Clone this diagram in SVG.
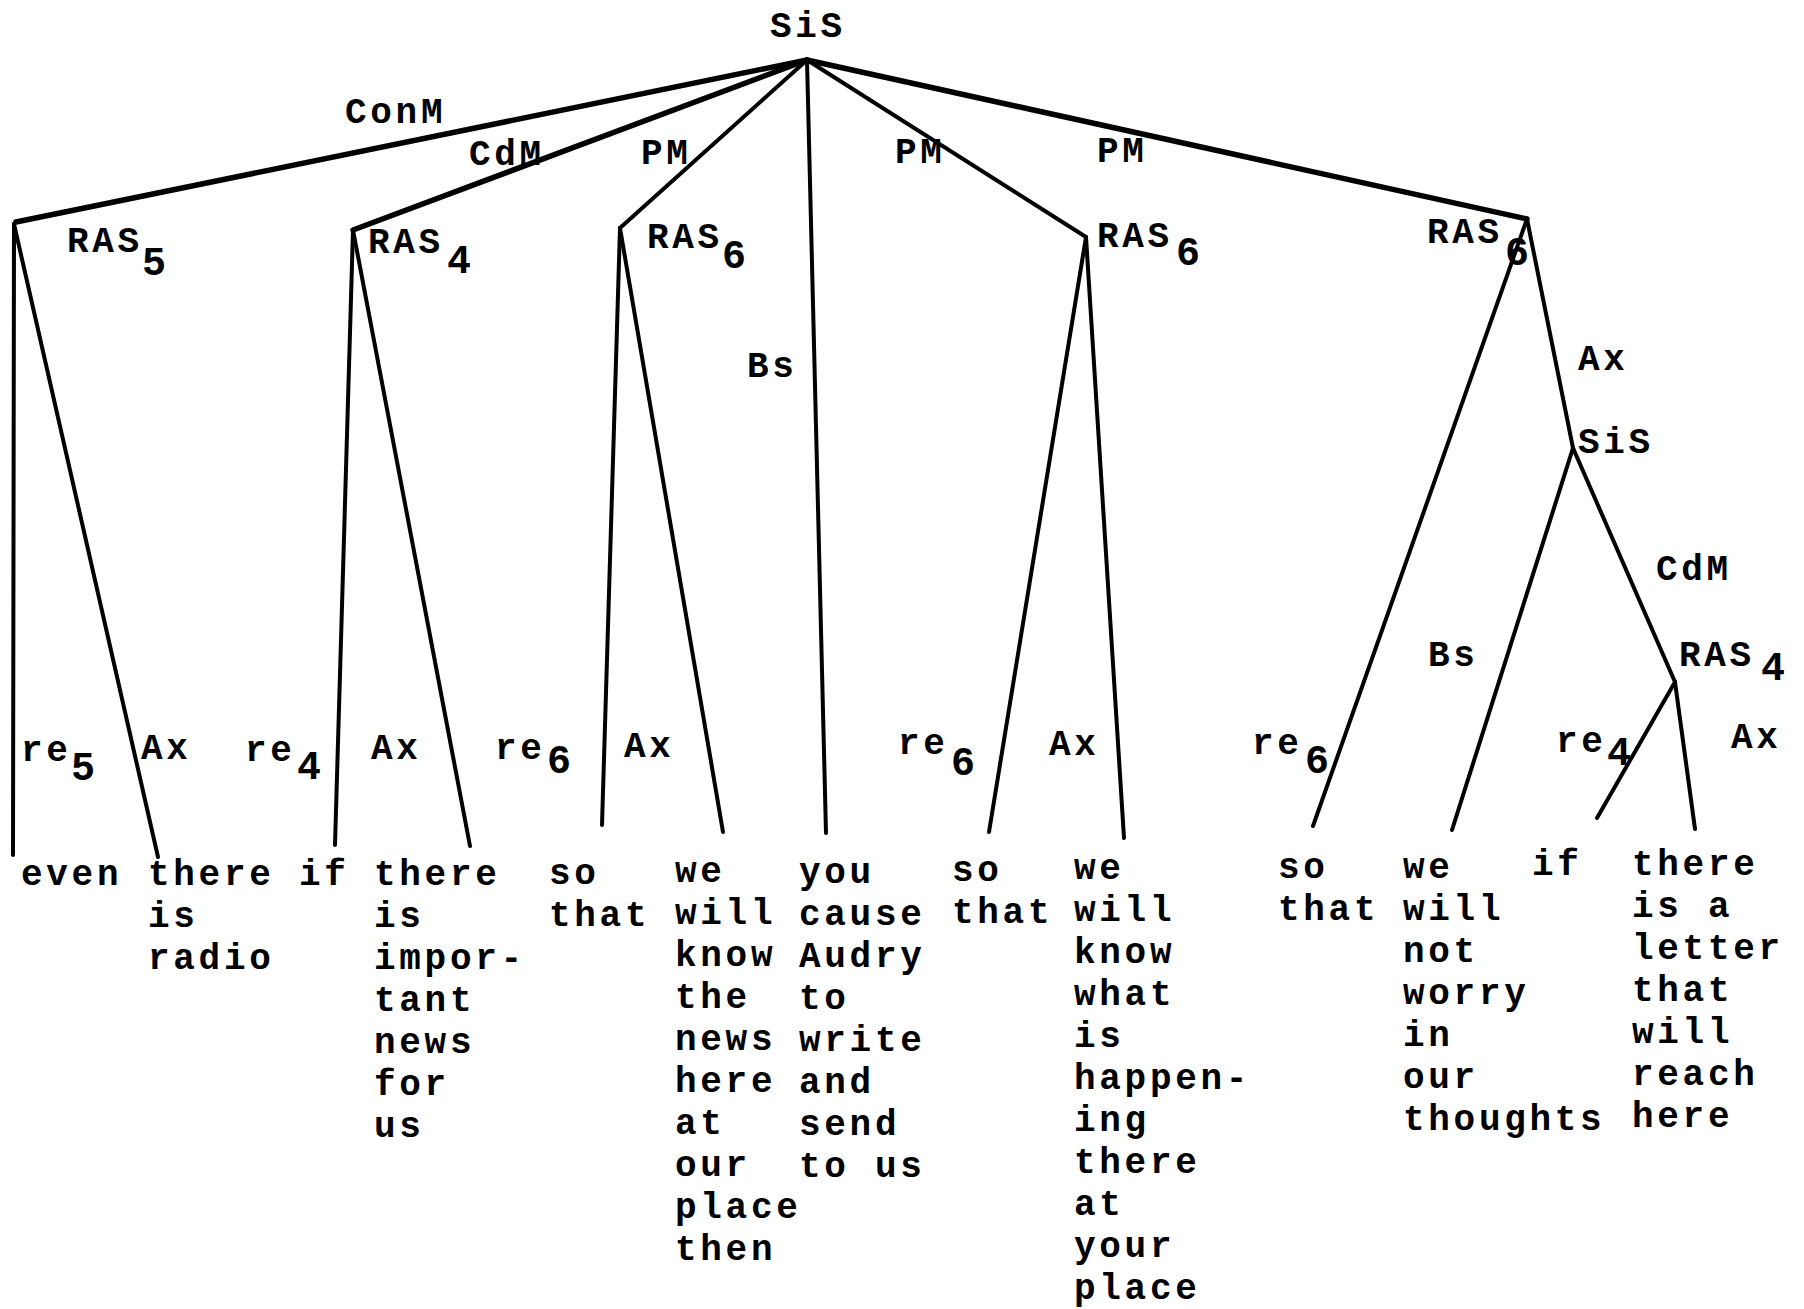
<svg xmlns="http://www.w3.org/2000/svg" width="1804" height="1309" viewBox="0 0 1804 1309">
  <style>
    .t { font-family: "Liberation Mono", "DejaVu Sans Mono", monospace; font-weight: bold; font-size: 36px; letter-spacing: 3.7px; fill: #000; }
    .sub { font-family: "Liberation Mono", "DejaVu Sans Mono", monospace; font-weight: bold; font-size: 40px; fill: #000; }
    .e { stroke: #000; stroke-width: 4; stroke-linecap: round; fill: none; }
    .ew { stroke: #000; stroke-width: 5.5; stroke-linecap: round; fill: none; }
  </style>
  <rect width="1804" height="1309" fill="#fff"/>

  <!-- tree edges -->
  <g id="connectors">
    <line class="ew" x1="807" y1="60" x2="16" y2="222"/>
    <line class="ew" x1="807" y1="60" x2="353" y2="230"/>
    <line class="e" x1="807" y1="60" x2="620" y2="228"/>
    <line class="e" x1="807" y1="60" x2="826" y2="833"/>
    <line class="e" x1="807" y1="60" x2="1086" y2="237"/>
    <line class="ew" x1="807" y1="60" x2="1527" y2="219"/>
    <line class="e" x1="14" y1="224" x2="13" y2="855"/>
    <line class="e" x1="14" y1="224" x2="158" y2="857"/>
    <line class="e" x1="353" y1="230" x2="335" y2="845"/>
    <line class="e" x1="353" y1="230" x2="470" y2="846"/>
    <line class="e" x1="620" y1="228" x2="602" y2="825"/>
    <line class="e" x1="620" y1="228" x2="723" y2="832"/>
    <line class="e" x1="1086" y1="237" x2="989" y2="832"/>
    <line class="e" x1="1086" y1="237" x2="1124" y2="838"/>
    <line class="e" x1="1527" y1="219" x2="1313" y2="826"/>
    <line class="e" x1="1527" y1="219" x2="1573" y2="448"/>
    <line class="e" x1="1573" y1="448" x2="1452" y2="830"/>
    <line class="e" x1="1573" y1="448" x2="1675" y2="682"/>
    <line class="e" x1="1675" y1="682" x2="1597" y2="818"/>
    <line class="e" x1="1675" y1="682" x2="1695" y2="829"/>
  </g>

  <!-- edge labels -->
  <g id="edge-labels">
    <text class="t" x="345" y="123">ConM</text>
    <text class="t" x="469" y="165">CdM</text>
    <text class="t" x="641" y="164">PM</text>
    <text class="t" x="895" y="163">PM</text>
    <text class="t" x="1097" y="162">PM</text>
    <text class="t" x="747" y="377">Bs</text>
    <text class="t" x="21" y="761">re</text><text class="sub" x="71" y="780">5</text>
    <text class="t" x="141" y="759">Ax</text>
    <text class="t" x="245" y="761">re</text><text class="sub" x="297" y="779">4</text>
    <text class="t" x="371" y="759">Ax</text>
    <text class="t" x="495" y="759">re</text><text class="sub" x="547" y="773">6</text>
    <text class="t" x="624" y="757">Ax</text>
    <text class="t" x="898" y="754">re</text><text class="sub" x="951" y="775">6</text>
    <text class="t" x="1049" y="755">Ax</text>
    <text class="t" x="1252" y="754">re</text><text class="sub" x="1305" y="773">6</text>
    <text class="t" x="1428" y="666">Bs</text>
    <text class="t" x="1578" y="370">Ax</text>
    <text class="t" x="1656" y="580">CdM</text>
    <text class="t" x="1556" y="752">re</text><text class="sub" x="1607" y="765">4</text>
    <text class="t" x="1731" y="748">Ax</text>
  </g>

  <!-- internal nodes -->
  <g id="node-sis-root"><text class="t" x="770" y="37">SiS</text></g>
  <g id="node-ras5"><text class="t" x="67" y="252">RAS</text><text class="sub" x="142" y="275">5</text></g>
  <g id="node-ras4"><text class="t" x="368" y="253">RAS</text><text class="sub" x="447" y="273">4</text></g>
  <g id="node-ras6-a"><text class="t" x="647" y="248">RAS</text><text class="sub" x="722" y="268">6</text></g>
  <g id="node-ras6-b"><text class="t" x="1097" y="247">RAS</text><text class="sub" x="1176" y="265">6</text></g>
  <g id="node-ras6-c"><text class="t" x="1427" y="243">RAS</text><text class="sub" x="1505" y="265">6</text></g>
  <g id="node-sis-inner"><text class="t" x="1578" y="453">SiS</text></g>
  <g id="node-ras4-b"><text class="t" x="1679" y="666">RAS</text><text class="sub" x="1761" y="680">4</text></g>

  <!-- leaf words -->
  <g id="leaf-even"><text class="t" x="21" y="885">even</text></g>
  <g id="leaf-there-radio"><text class="t" x="148" y="885"><tspan x="148">there</tspan><tspan x="148" dy="42">is</tspan><tspan x="148" dy="42">radio</tspan></text></g>
  <g id="leaf-if-1"><text class="t" x="299" y="885">if</text></g>
  <g id="leaf-there-news"><text class="t" x="374" y="885"><tspan x="374">there</tspan><tspan x="374" dy="42">is</tspan><tspan x="374" dy="42">impor-</tspan><tspan x="374" dy="42">tant</tspan><tspan x="374" dy="42">news</tspan><tspan x="374" dy="42">for</tspan><tspan x="374" dy="42">us</tspan></text></g>
  <g id="leaf-so-that-1"><text class="t" x="549" y="884"><tspan x="549">so</tspan><tspan x="549" dy="42">that</tspan></text></g>
  <g id="leaf-we-know-news"><text class="t" x="675" y="882"><tspan x="675">we</tspan><tspan x="675" dy="42">will</tspan><tspan x="675" dy="42">know</tspan><tspan x="675" dy="42">the</tspan><tspan x="675" dy="42">news</tspan><tspan x="675" dy="42">here</tspan><tspan x="675" dy="42">at</tspan><tspan x="675" dy="42">our</tspan><tspan x="675" dy="42">place</tspan><tspan x="675" dy="42">then</tspan></text></g>
  <g id="leaf-you-cause"><text class="t" x="799" y="883"><tspan x="799">you</tspan><tspan x="799" dy="42">cause</tspan><tspan x="799" dy="42">Audry</tspan><tspan x="799" dy="42">to</tspan><tspan x="799" dy="42">write</tspan><tspan x="799" dy="42">and</tspan><tspan x="799" dy="42">send</tspan><tspan x="799" dy="42">to us</tspan></text></g>
  <g id="leaf-so-that-2"><text class="t" x="952" y="881"><tspan x="952">so</tspan><tspan x="952" dy="42">that</tspan></text></g>
  <g id="leaf-we-know-what"><text class="t" x="1074" y="879"><tspan x="1074">we</tspan><tspan x="1074" dy="42">will</tspan><tspan x="1074" dy="42">know</tspan><tspan x="1074" dy="42">what</tspan><tspan x="1074" dy="42">is</tspan><tspan x="1074" dy="42">happen-</tspan><tspan x="1074" dy="42">ing</tspan><tspan x="1074" dy="42">there</tspan><tspan x="1074" dy="42">at</tspan><tspan x="1074" dy="42">your</tspan><tspan x="1074" dy="42">place</tspan></text></g>
  <g id="leaf-so-that-3"><text class="t" x="1278" y="878"><tspan x="1278">so</tspan><tspan x="1278" dy="42">that</tspan></text></g>
  <g id="leaf-we-not-worry"><text class="t" x="1403" y="878"><tspan x="1403">we</tspan><tspan x="1403" dy="42">will</tspan><tspan x="1403" dy="42">not</tspan><tspan x="1403" dy="42">worry</tspan><tspan x="1403" dy="42">in</tspan><tspan x="1403" dy="42">our</tspan><tspan x="1403" dy="42">thoughts</tspan></text></g>
  <g id="leaf-if-2"><text class="t" x="1532" y="875">if</text></g>
  <g id="leaf-there-letter"><text class="t" x="1632" y="875"><tspan x="1632">there</tspan><tspan x="1632" dy="42">is a</tspan><tspan x="1632" dy="42">letter</tspan><tspan x="1632" dy="42">that</tspan><tspan x="1632" dy="42">will</tspan><tspan x="1632" dy="42">reach</tspan><tspan x="1632" dy="42">here</tspan></text></g>
</svg>
